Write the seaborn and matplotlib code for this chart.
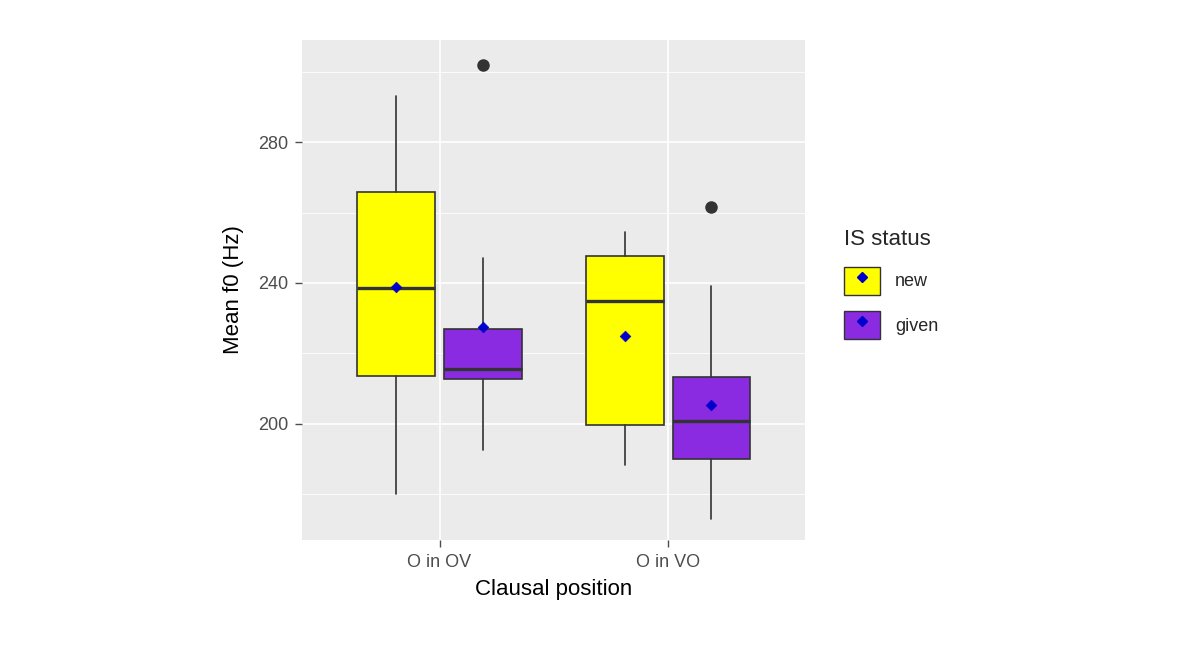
import matplotlib
matplotlib.use("Agg")
import matplotlib.pyplot as plt
import seaborn as sns
import pandas as pd
from matplotlib.patches import Patch
from matplotlib.lines import Line2D

positions = ["O in OV", "O in VO"]
statuses = ["new", "given"]
colors = {"new": "#FFFF00", "given": "#8A2BE2"}
# per (position, status): whislo, q1, med, q3, whishi, mean
whislo = [180.0, 192.6, 188.4, 172.8]
q1 = [213.6, 212.8, 199.7, 190.0]
med = [238.6, 215.6, 234.9, 200.9]
q3 = [265.8, 227.0, 247.7, 213.3]
whishi = [293.0, 247.0, 254.5, 239.0]
means = [238.9, 227.5, 225.0, 205.4]
outliers = [[], [302.0], [], [261.6]]

sns.set_theme(style="darkgrid", rc={"axes.facecolor": "#EBEBEB", "grid.color": "white"})
plt.rcParams['font.family'] = ['Liberation Sans', 'DejaVu Sans']
fig = plt.figure(figsize=(12, 6.56), dpi=100)
ax = fig.add_axes([0.252, 0.177, 0.419, 0.762])

offs = [-0.19, 0.19]
stats, pos, cols = [], [], []
i = 0
for pi, p in enumerate(positions):
    for si, s in enumerate(statuses):
        stats.append(dict(whislo=whislo[i], q1=q1[i], med=med[i], q3=q3[i],
                          whishi=whishi[i], fliers=outliers[i]))
        pos.append(pi + offs[si]); cols.append(colors[s]); i += 1
bp = ax.bxp(stats, positions=pos, widths=0.34, patch_artist=True, showcaps=False,
            medianprops=dict(color="#333333", lw=2.4),
            whiskerprops=dict(color="#333333", lw=1.2),
            boxprops=dict(edgecolor="#333333", lw=1.2),
            flierprops=dict(marker="o", markerfacecolor="#333333", markeredgecolor="#333333", markersize=8))
for b, c in zip(bp["boxes"], cols):
    b.set_facecolor(c)

mdf = pd.DataFrame({"x": pos, "y": means})
sns.scatterplot(data=mdf, x="x", y="y", ax=ax, marker="D", color="#0000CC", s=30, zorder=5,
                edgecolor="#0000CC", legend=False)

ax.set_xlim(-0.6, 1.6)
ax.set_ylim(167, 309)
ax.set_xticks([0, 1]); ax.set_xticklabels(positions)
ax.set_yticks([200, 240, 280])
ax.set_yticks([180, 220, 260, 300], minor=True)
ax.grid(which="major", color="white", lw=1.2)
ax.grid(which="minor", color="white", lw=0.6)
ax.tick_params(axis="both", which="major", colors="#4D4D4D", labelsize=13, length=5, width=1,
               direction="out", bottom=True, left=True, pad=5)
for sp in ax.spines.values():
    sp.set_visible(False)
ax.set_xlabel("Clausal position", fontsize=16, color="black", labelpad=6)
ax.set_ylabel("Mean f0 (Hz)", fontsize=16, color="black", labelpad=10)

handles = [(Patch(facecolor="#EBEBEB", edgecolor="none"),
            Patch(facecolor=colors[s], edgecolor="#333333"),
            Line2D([], [], marker="D", color="#0000CC", ls="", markersize=5)) for s in statuses]
leg = fig.legend(handles, statuses, title="IS status", loc="upper left",
                 bbox_to_anchor=(0.69, 0.675), frameon=False, fontsize=13, title_fontsize=16,
                 handlelength=2.0, handleheight=2.0, labelspacing=0.9, alignment="left")
fig.savefig("out.png", dpi=100)
